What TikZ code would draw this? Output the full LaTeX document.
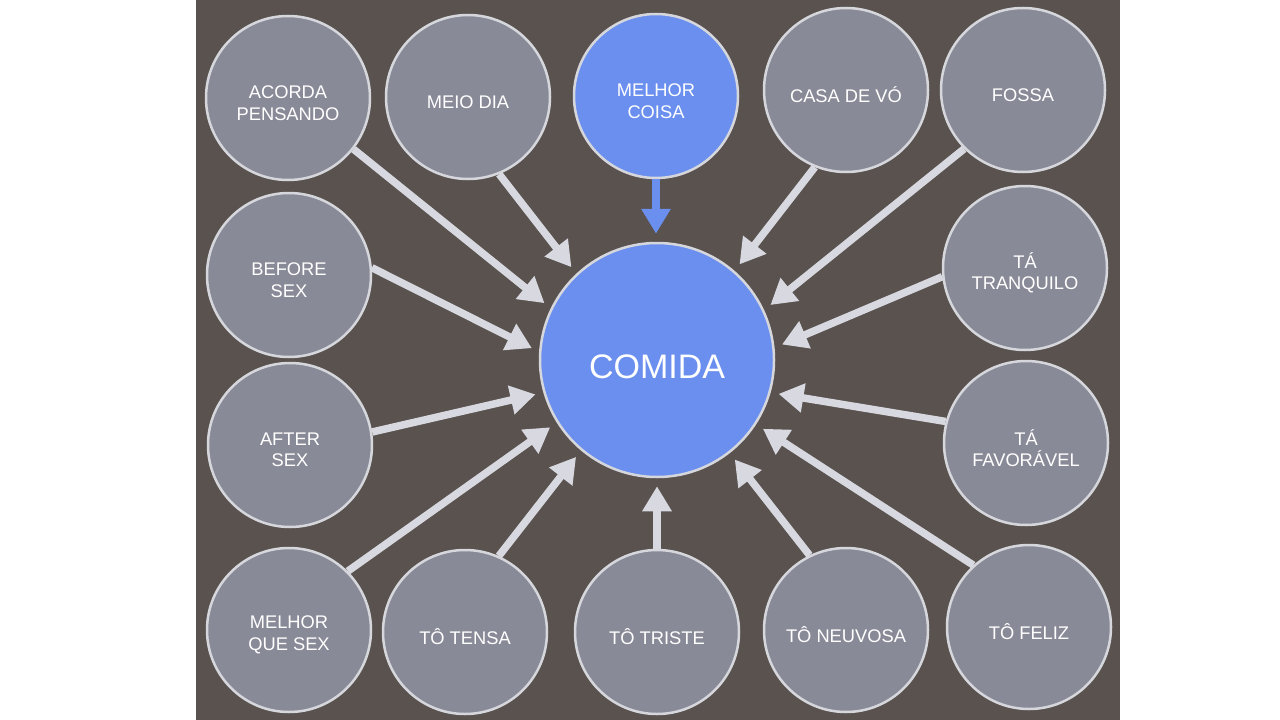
\documentclass[tikz,border=0pt]{standalone}
\usepackage{fontspec}
\setmainfont{Liberation Sans}
\usetikzlibrary{arrows.meta}
\definecolor{bgdark}{HTML}{59524F}
\definecolor{bubble}{HTML}{898A97}
\definecolor{rim}{HTML}{D6D7DC}
\definecolor{bluefill}{HTML}{6A8FEE}
\definecolor{arrowc}{HTML}{D8D9E0}
\tikzset{
  bub/.style={circle, draw=rim, line width=2.5pt, fill=bubble, minimum size=164pt, inner sep=0pt},
  bubblue/.style={bub, fill=bluefill},
  hub/.style={circle, draw=rim, line width=2.5pt, fill=bluefill, minimum size=234pt, inner sep=0pt},
  lbl/.style={text=white, align=center, font=\fontsize{18.3}{21.5}\selectfont, yshift=-5pt},
  hublbl/.style={text=white, font=\fontsize{34}{40}\selectfont, yshift=-7pt},
  link/.style={draw=arrowc, line width=7.5pt, shorten >=8pt,
    -{Triangle[length=25pt,width=28pt]}},
  linkblue/.style={link, draw=bluefill}
}
\begin{document}
\begin{tikzpicture}[x=1pt,y=-1pt]
\useasboundingbox (0,0) rectangle (1280,720);
\fill[white] (0,0) rectangle (1280,720);
\fill[bgdark] (196,0) rectangle (1120,720);

\node[hub, label={[hublbl]center:COMIDA}] (c) at (657,360) {};

\node[bub, label={[lbl]center:ACORDA\\PENSANDO}] (n1) at (288,98) {};
\node[bub, label={[lbl]center:MEIO DIA}] (n2) at (468,97) {};
\node[bubblue, label={[lbl]center:MELHOR\\COISA}] (n3) at (656,96) {};
\node[bub, label={[lbl]center:CASA DE VÓ}] (n4) at (846,90) {};
\node[bub, label={[lbl]center:FOSSA}] (n5) at (1023,90) {};
\node[bub, label={[lbl]center:BEFORE\\SEX}] (n6) at (289,275) {};
\node[bub, label={[lbl]center:TÁ\\TRANQUILO}] (n7) at (1025,268) {};
\node[bub, label={[lbl]center:AFTER\\SEX}] (n8) at (290,445) {};
\node[bub, label={[lbl]center:TÁ\\FAVORÁVEL}] (n9) at (1026,443) {};
\node[bub, label={[lbl]center:MELHOR\\QUE SEX}] (n10) at (289,630) {};
\node[bub, label={[lbl]center:TÔ TENSA}] (n11) at (465,632) {};
\node[bub, label={[lbl]center:TÔ TRISTE}] (n12) at (657,632) {};
\node[bub, label={[lbl]center:TÔ NEUVOSA}] (n13) at (846,630) {};
\node[bub, label={[lbl]center:TÔ FELIZ}] (n14) at (1029,627) {};

\draw[link] (n1.-38) -- (c.154);
\draw[link] (n2.-68) -- (c.133);
\draw[linkblue] (n3.south) -- (n3.south |- c.north);
\draw[link] (n4.-112) -- (c.49.5);
\draw[link] (n5.-135) -- (c.25);
\draw[link] (n6.5) -- (c.176);
\draw[link] (n7.-174) -- (c.6);
\draw[link] (n8.9) -- (c.196);
\draw[link] (n9.165) -- (c.-16);
\draw[link] (n10.45) -- (c.212);
\draw[link] (n11.66) -- (c.230);
\draw[link] (n12.north) -- (n12.north |- c.south);
\draw[link] (n13.116) -- (c.-52);
\draw[link] (n14.132) -- (c.-33);
\end{tikzpicture}
\end{document}
